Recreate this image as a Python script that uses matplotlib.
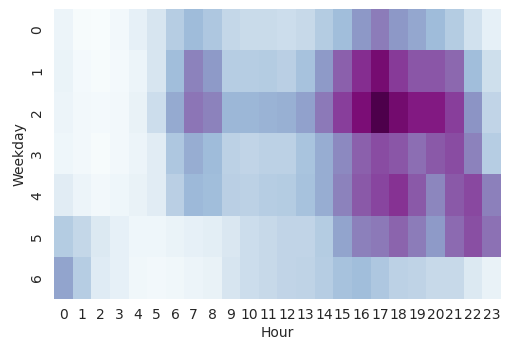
import matplotlib
matplotlib.use("Agg")
import matplotlib.pyplot as plt
import numpy as np
import pandas as pd
import seaborn as sns

hours = list(range(24))
weekdays = list(range(7))

# counts per hour, one list per weekday
day0 = [7, 2, 1, 4, 10, 17, 29, 38, 32, 24, 22, 22, 21, 23, 30, 37, 50, 58, 50, 45, 38, 30, 19, 10]
day1 = [8, 3, 2, 3, 7, 17, 37, 56, 49, 29, 29, 30, 28, 35, 49, 66, 80, 90, 77, 69, 69, 64, 37, 20]
day2 = [7, 4, 3, 4, 9, 21, 44, 60, 56, 40, 40, 41, 42, 47, 59, 76, 89, 100, 91, 85, 85, 76, 51, 25]
day3 = [6, 4, 2, 4, 7, 13, 32, 43, 38, 27, 25, 27, 27, 34, 43, 54, 66, 72, 69, 62, 68, 72, 56, 29]
day4 = [13, 7, 4, 6, 9, 13, 28, 39, 37, 28, 27, 29, 30, 35, 43, 56, 68, 74, 79, 68, 55, 68, 73, 57]
day5 = [30, 24, 15, 10, 6, 6, 8, 10, 12, 16, 21, 23, 25, 25, 30, 46, 57, 59, 65, 58, 49, 63, 71, 61]
day6 = [46, 29, 14, 10, 5, 4, 5, 7, 9, 17, 21, 23, 25, 26, 29, 35, 37, 32, 27, 26, 23, 23, 15, 9]

df = pd.DataFrame([day0, day1, day2, day3, day4, day5, day6], index=weekdays, columns=hours)
df.index.name = "Weekday"
df.columns.name = "Hour"

fig, ax = plt.subplots(figsize=(5.25, 3.46), dpi=100)
sns.heatmap(df, cmap="BuPu", cbar=False, ax=ax)
ax.tick_params(length=0, pad=7, labelsize=10, colors="#262626")
ax.set_xlabel("Hour", fontsize=10, color="#262626", labelpad=3)
ax.set_ylabel("Weekday", fontsize=10, color="#262626", labelpad=3)
ax.set_xticklabels(ax.get_xticklabels(), rotation=0)
ax.set_yticklabels(ax.get_yticklabels(), rotation=90, va="center")
fig.subplots_adjust(left=0.103, right=0.954, top=0.974, bottom=0.137)
fig.savefig("out.png", dpi=100)
